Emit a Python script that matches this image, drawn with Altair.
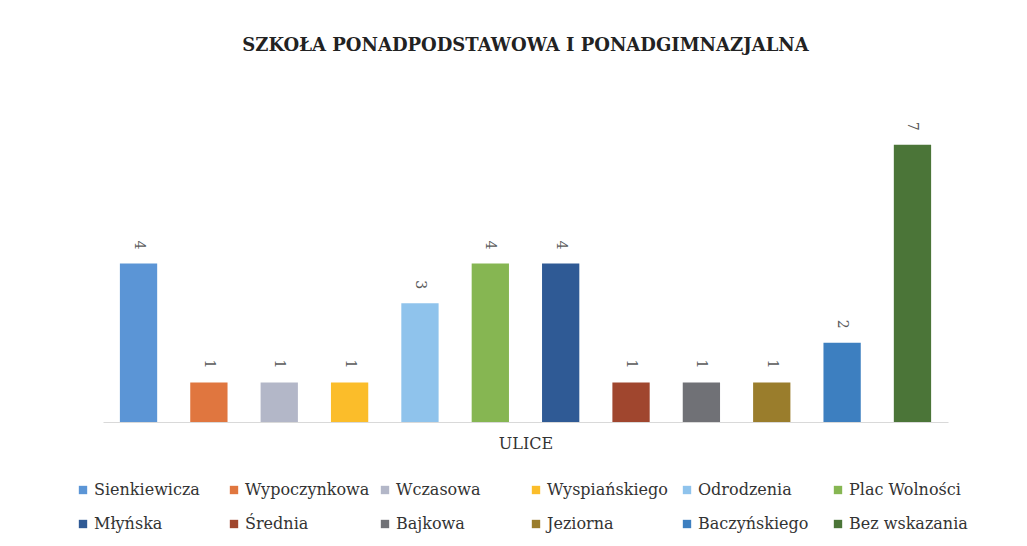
import altair as alt
import pandas as pd

streets = ["Sienkiewicza", "Wypoczynkowa", "Wczasowa", "Wyspiańskiego", "Odrodzenia",
           "Plac Wolności", "Młyńska", "Średnia", "Bajkowa", "Jeziorna",
           "Baczyńskiego", "Bez wskazania"]
counts = [4, 1, 1, 1, 3, 4, 4, 1, 1, 1, 2, 7]
colors = ["#5b95d6", "#e0763f", "#b3b7c8", "#fbbd2a", "#8fc3ec", "#86b652",
          "#2f5a95", "#a0462e", "#707176", "#9a7d2c", "#3d7fc0", "#4b7538"]

df = pd.DataFrame({"ulica": streets, "liczba": counts})

FONT = "DejaVu Serif"

x = alt.X("ulica:N", sort=streets,
          scale=alt.Scale(paddingInner=0.47, paddingOuter=0.24),
          axis=alt.Axis(title="ULICE", labels=False, ticks=False, domainColor="#d9d9d9",
                        titleFont=FONT, titleFontSize=16, titleFontWeight="normal",
                        titleColor="#333333", titlePadding=13))
y = alt.Y("liczba:Q", scale=alt.Scale(domain=[0, 8], nice=False), axis=None)

bars = alt.Chart(df).mark_bar().encode(
    x=x, y=y,
    color=alt.Color("ulica:N", sort=streets,
                    scale=alt.Scale(domain=streets, range=colors),
                    legend=alt.Legend(title=None, orient="none", legendX=-28, legendY=377,
                                      direction="horizontal", columns=6, gridAlign="all",
                                      symbolType="square", symbolSize=70, symbolStrokeWidth=0,
                                      labelFont=FONT, labelFontSize=16, labelColor="#333333",
                                      labelLimit=200, columnPadding=7, rowPadding=18,
                                      labelOffset=3))
)

labels = alt.Chart(df).mark_text(angle=90, align="right", baseline="middle", dx=-14,
                                 font=FONT, fontSize=14, color="#595959").encode(
    x=alt.X("ulica:N", sort=streets), y=alt.Y("liczba:Q"), text="liczba:Q"
)

chart = alt.layer(bars, labels).properties(
    width=845, height=317,
    background="white",
    padding={"left": 67, "top": 29, "right": 10, "bottom": 5},
    title=alt.Title("SZKOŁA PONADPODSTAWOWA I PONADGIMNAZJALNA", font=FONT, fontSize=18,
                    fontWeight="bold", color="#222222", offset=50, anchor="middle"),
).configure_view(strokeWidth=0, stroke="transparent")

chart.save("out.html", embed_options={"renderer": "svg", "actions": False})
